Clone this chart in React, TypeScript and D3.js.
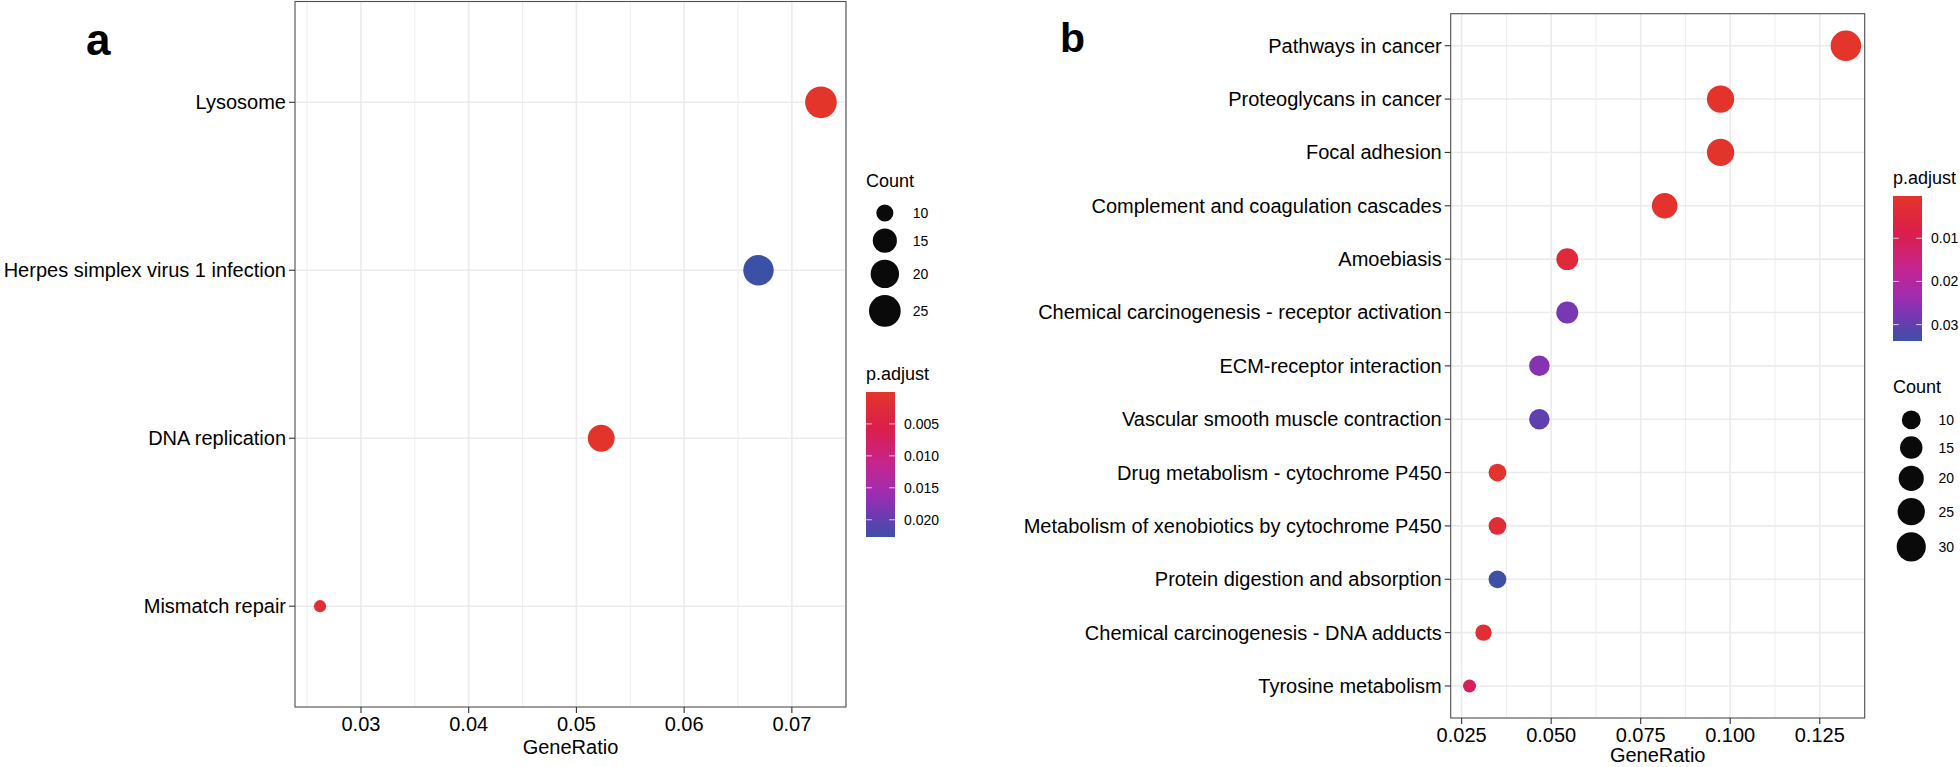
import React, { useEffect } from "react";
import * as d3 from "d3";

// ---------- Panel a data ----------
const catsA = ["Lysosome", "Herpes simplex virus 1 infection", "DNA replication", "Mismatch repair"];
const ratioA = [0.0727, 0.0669, 0.0523, 0.0262];
const countA = [25, 23, 18, 9];
const padjA = [0.00001, 0.0227, 0.0003, 0.0018];
const xTicksA = [0.03, 0.04, 0.05, 0.06, 0.07];
const xTickLabelsA = ["0.03", "0.04", "0.05", "0.06", "0.07"];
const countBreaksA = [10, 15, 20, 25];
const padjBreaksA = [0.005, 0.01, 0.015, 0.02];
const padjLabelsA = ["0.005", "0.010", "0.015", "0.020"];

// ---------- Panel b data ----------
const catsB = [
  "Pathways in cancer",
  "Proteoglycans in cancer",
  "Focal adhesion",
  "Complement and coagulation cascades",
  "Amoebiasis",
  "Chemical carcinogenesis - receptor activation",
  "ECM-receptor interaction",
  "Vascular smooth muscle contraction",
  "Drug metabolism - cytochrome P450",
  "Metabolism of xenobiotics by cytochrome P450",
  "Protein digestion and absorption",
  "Chemical carcinogenesis - DNA adducts",
  "Tyrosine metabolism",
];
const ratioB = [0.1323, 0.0973, 0.0973, 0.0817, 0.0545, 0.0545, 0.0467, 0.0467, 0.035, 0.035, 0.035, 0.0311, 0.0272];
const countB = [34, 25, 25, 21, 14, 14, 12, 12, 9, 9, 9, 8, 7];
const padjB = [0.0002, 0.0004, 0.0005, 0.0009, 0.0042, 0.0278, 0.0264, 0.0304, 0.0009, 0.0036, 0.0338, 0.0029, 0.0103];
const xTicksB = [0.025, 0.05, 0.075, 0.1, 0.125];
const xTickLabelsB = ["0.025", "0.050", "0.075", "0.100", "0.125"];
const countBreaksB = [10, 15, 20, 25, 30];
const padjBreaksB = [0.01, 0.02, 0.03];
const padjLabelsB = ["0.01", "0.02", "0.03"];

// ---------- colour ramp (low p -> red, high p -> blue) ----------
const colorStops = ["#E3352A", "#DC1E4A", "#C4258F", "#9E2DB0", "#6E3AB2", "#3C50A6"];
const colorStopPos = [0, 0.25, 0.5, 0.7, 0.85, 1];

const FONT = "'Liberation Sans', Arial, Helvetica, sans-serif";

type LegendSpec = {
  kind: "count" | "padj";
  titleY: number;
};

type PanelProps = {
  id: string;
  cats: string[];
  ratio: number[];
  count: number[];
  padj: number[];
  xTicks: number[];
  xTickLabels: string[];
  countBreaks: number[];
  padjBreaks: number[];
  padjLabels: string[];
  box: { l: number; r: number; t: number; b: number };
  dRange: [number, number];
  legendX: number;
  legends: LegendSpec[];
  tag: string;
  tagX: number;
  tagY: number;
  tagSize: number;
  titleGap: number;
};

function Panel(p: PanelProps) {
  const { box } = p;
  const ext = d3.extent(p.ratio) as [number, number];
  const pad = (ext[1] - ext[0]) * 0.05;
  const x = d3.scaleLinear().domain([ext[0] - pad, ext[1] + pad]).range([box.l, box.r]);
  const y = d3.scalePoint<string>().domain(p.cats).range([box.t, box.b]).padding(0.6);

  const cExt = d3.extent(p.count) as [number, number];
  const sT = d3.scaleLinear().domain(cExt).range([0, 1]);
  const dia = (v: number) => p.dRange[0] + (p.dRange[1] - p.dRange[0]) * Math.sqrt(Math.max(0, sT(v)));

  const pExt = d3.extent(p.padj) as [number, number];
  const pT = d3.scaleLinear().domain(pExt).range([0, 1]);
  const ramp = d3.scaleLinear<string>().domain(colorStopPos).range(colorStops).interpolate(d3.interpolateRgb);
  const col = (v: number) => ramp(pT(v));

  // minor breaks: midpoints between majors, extended one step on each side
  const step = p.xTicks[1] - p.xTicks[0];
  const minor: number[] = [];
  for (let i = -1; i < p.xTicks.length; i++) {
    const v = p.xTicks[0] + step * (i + 0.5);
    const dom = x.domain();
    if (v >= dom[0] && v <= dom[1]) minor.push(v);
  }

  const grid = "#EBEBEB";
  const tickLen = 6;
  const gradId = "grad-" + p.id;

  // legend pieces
  const lx = p.legendX;
  const keyW = p.dRange[1] + 6;
  const legendEls: React.ReactNode[] = [];
  p.legends.forEach((lg, li) => {
    if (lg.kind === "count") {
      legendEls.push(
        <text key={"ct" + li} x={lx} y={lg.titleY} fontSize={18} fill="#000">Count</text>
      );
      let cy = lg.titleY + 14;
      p.countBreaks.forEach((v, i) => {
        const d = dia(v);
        const h = d + 7;
        const c = cy + h / 2;
        cy += h;
        legendEls.push(
          <g key={"ck" + li + "-" + i}>
            <circle cx={lx + keyW / 2} cy={c} r={d / 2} fill="#0a0a0a" />
            <text x={lx + keyW + 9} y={c} fontSize={14} dominantBaseline="central" fill="#000">{String(v)}</text>
          </g>
        );
      });
    } else {
      const barTop = lg.titleY + 12;
      const barH = 145;
      const barW = 29;
      const by = d3.scaleLinear().domain(pExt).range([barTop, barTop + barH]);
      legendEls.push(
        <text key={"pt" + li} x={lx} y={lg.titleY} fontSize={18} fill="#000">p.adjust</text>
      );
      legendEls.push(
        <rect key={"pb" + li} x={lx} y={barTop} width={barW} height={barH} fill={`url(#${gradId})`} />
      );
      p.padjBreaks.forEach((v, i) => {
        const yy = by(v);
        legendEls.push(
          <g key={"pk" + li + "-" + i}>
            <line x1={lx} x2={lx + barW / 5} y1={yy} y2={yy} stroke="#fff" strokeOpacity={0.75} strokeWidth={1} />
            <line x1={lx + barW - barW / 5} x2={lx + barW} y1={yy} y2={yy} stroke="#fff" strokeOpacity={0.75} strokeWidth={1} />
            <text x={lx + barW + 9} y={yy} fontSize={14} dominantBaseline="central" fill="#000">{p.padjLabels[i]}</text>
          </g>
        );
      });
    }
  });

  return (
    <g fontFamily={FONT}>
      <defs>
        <linearGradient id={gradId} x1="0" y1="0" x2="0" y2="1">
          {colorStops.map((c, i) => (
            <stop key={i} offset={colorStopPos[i]} stopColor={c} />
          ))}
        </linearGradient>
      </defs>
      <text x={p.tagX} y={p.tagY} fontSize={p.tagSize} fontWeight="bold" fill="#000">{p.tag}</text>
      {/* panel background + grid */}
      <rect x={box.l} y={box.t} width={box.r - box.l} height={box.b - box.t} fill="#fff" />
      {minor.map((v, i) => (
        <line key={"mi" + i} x1={x(v)} x2={x(v)} y1={box.t} y2={box.b} stroke={grid} strokeWidth={0.9} />
      ))}
      {p.xTicks.map((v, i) => (
        <line key={"mx" + i} x1={x(v)} x2={x(v)} y1={box.t} y2={box.b} stroke={grid} strokeWidth={1.6} />
      ))}
      {p.cats.map((c, i) => (
        <line key={"my" + i} x1={box.l} x2={box.r} y1={y(c)!} y2={y(c)!} stroke={grid} strokeWidth={1.6} />
      ))}
      {/* points */}
      {p.cats.map((c, i) => (
        <circle key={"pt" + i} cx={x(p.ratio[i])} cy={y(c)!} r={dia(p.count[i]) / 2} fill={col(p.padj[i])} />
      ))}
      <rect x={box.l} y={box.t} width={box.r - box.l} height={box.b - box.t} fill="none" stroke="#4d4d4d" strokeWidth={1.1} />
      {/* y axis */}
      {p.cats.map((c, i) => (
        <g key={"yt" + i}>
          <line x1={box.l - tickLen} x2={box.l} y1={y(c)!} y2={y(c)!} stroke="#333" strokeWidth={1.1} />
          <text x={box.l - tickLen - 3} y={y(c)!} textAnchor="end" dominantBaseline="central" fontSize={20} fill="#000">{c}</text>
        </g>
      ))}
      {/* x axis */}
      {p.xTicks.map((v, i) => (
        <g key={"xt" + i}>
          <line x1={x(v)} x2={x(v)} y1={box.b} y2={box.b + tickLen} stroke="#333" strokeWidth={1.1} />
          <text x={x(v)} y={box.b + 24} textAnchor="middle" fontSize={20} fill="#000">{p.xTickLabels[i]}</text>
        </g>
      ))}
      <text x={(box.l + box.r) / 2} y={box.b + p.titleGap} textAnchor="middle" fontSize={20} fill="#000">GeneRatio</text>
      {legendEls}
    </g>
  );
}

export default function App() {
  useEffect(() => {
    document.body.style.margin = "0";
    document.body.style.overflow = "hidden";
  }, []);
  return (
    <svg width={1960} height={767} style={{ position: "absolute", left: 0, top: 0, background: "#fff" }}>
      <rect x={0} y={0} width={1960} height={767} fill="#fff" />
      <Panel
        id="a"
        cats={catsA}
        ratio={ratioA}
        count={countA}
        padj={padjA}
        xTicks={xTicksA}
        xTickLabels={xTickLabelsA}
        countBreaks={countBreaksA}
        padjBreaks={padjBreaksA}
        padjLabels={padjLabelsA}
        box={{ l: 295, r: 846, t: 1.5, b: 707 }}
        dRange={[12.2, 31.7]}
        legendX={866}
        legends={[
          { kind: "count", titleY: 187 },
          { kind: "padj", titleY: 380 },
        ]}
        tag="a"
        tagX={86}
        tagY={55}
        tagSize={44}
        titleGap={47}
      />
      <Panel
        id="b"
        cats={catsB}
        ratio={ratioB}
        count={countB}
        padj={padjB}
        xTicks={xTicksB}
        xTickLabels={xTickLabelsB}
        countBreaks={countBreaksB}
        padjBreaks={padjBreaksB}
        padjLabels={padjLabelsB}
        box={{ l: 1450.7, r: 1864.7, t: 13.7, b: 718 }}
        dRange={[13, 30.5]}
        legendX={1893}
        legends={[
          { kind: "padj", titleY: 184 },
          { kind: "count", titleY: 393 },
        ]}
        tag="b"
        tagX={1060}
        tagY={52}
        tagSize={41}
        titleGap={44}
      />
    </svg>
  );
}
